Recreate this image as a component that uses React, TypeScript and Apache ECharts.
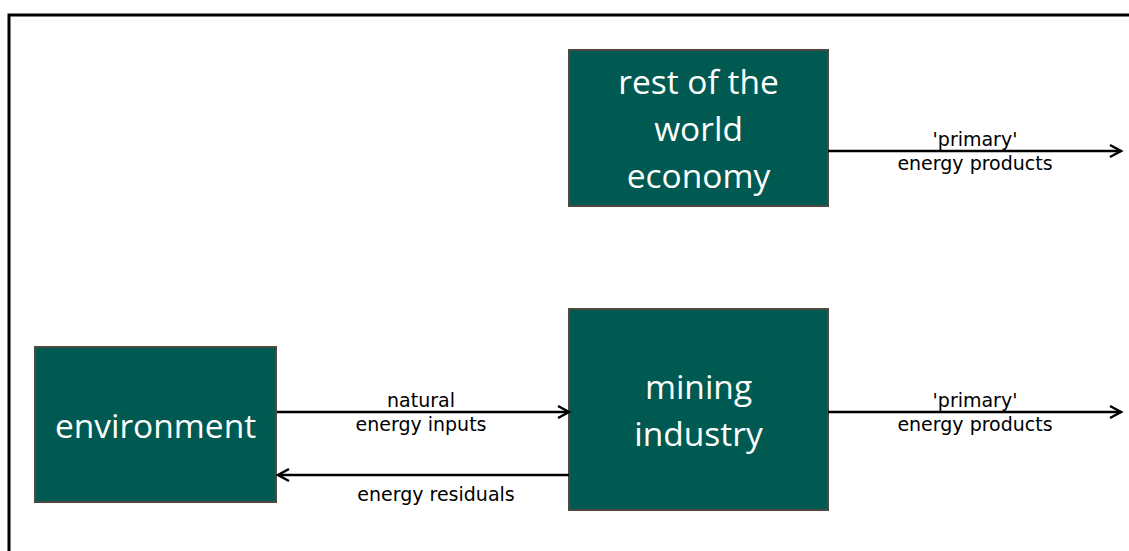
import React, { useEffect, useRef } from "react";
import * as echarts from "echarts";

const boxNames = ["rest of the\nworld\neconomy", "mining\nindustry", "environment"];
const boxRects = [
  [569, 50, 259, 156],
  [569, 309, 259, 201],
  [35, 347, 241, 155],
];
const arrowLabels = ["'primary'\nenergy products", "'primary'\nenergy products", "natural\nenergy inputs", "energy residuals"];
const arrowLines = [
  [828, 151, 1121, 151],
  [828, 412, 1121, 412],
  [277, 412, 569, 412],
  [569, 475, 278, 475],
];
const labelPos = [
  [975, 151],
  [975, 412],
  [421, 412],
  [436, 494],
];

const BOX_FILL = "#005a52";
const BOX_STROKE = "#4f4940";

export default function App() {
  const ref = useRef<HTMLDivElement>(null);
  useEffect(() => {
    document.body.style.margin = "0";
    const chart = echarts.init(ref.current!, null, { renderer: "svg" });
    const elements: any[] = [];
    elements.push({
      type: "polyline",
      shape: { points: [[9, 551], [9, 15], [1129, 15]] },
      style: { stroke: "#000", lineWidth: 3, fill: null },
    });
    boxRects.forEach((r, i) => {
      elements.push({
        type: "rect",
        shape: { x: r[0], y: r[1], width: r[2], height: r[3] },
        style: { fill: BOX_FILL, stroke: BOX_STROKE, lineWidth: 2 },
      });
      elements.push({
        type: "text",
        x: r[0] + r[2] / 2,
        y: r[1] + r[3] / 2,
        style: {
          text: boxNames[i],
          fill: "#ffffff",
          font: '33.5px "Open Sans"',
          lineHeight: 47,
          align: "center",
          verticalAlign: "middle",
        },
      });
    });
    arrowLines.forEach((a) => {
      const [x1, y1, x2, y2] = a;
      elements.push({
        type: "line",
        shape: { x1, y1, x2, y2 },
        style: { stroke: "#000", lineWidth: 2.5 },
      });
      const dir = x2 > x1 ? 1 : -1;
      elements.push({
        type: "polyline",
        shape: { points: [[x2 - dir * 11, y2 - 6], [x2, y2], [x2 - dir * 11, y2 + 6]] },
        style: { stroke: "#000", lineWidth: 2.5, fill: null },
      });
    });
    arrowLabels.forEach((t, i) => {
      const [x, y] = labelPos[i];
      elements.push({
        type: "text",
        x,
        y,
        style: {
          text: t,
          fill: "#000",
          font: '19px "DejaVu Sans"',
          lineHeight: 24,
          align: "center",
          verticalAlign: "middle",
        },
      });
    });
    chart.setOption({ animation: false, graphic: { elements } });
    return () => chart.dispose();
  }, []);
  return <div ref={ref} style={{ width: 1129, height: 551 }} />;
}
